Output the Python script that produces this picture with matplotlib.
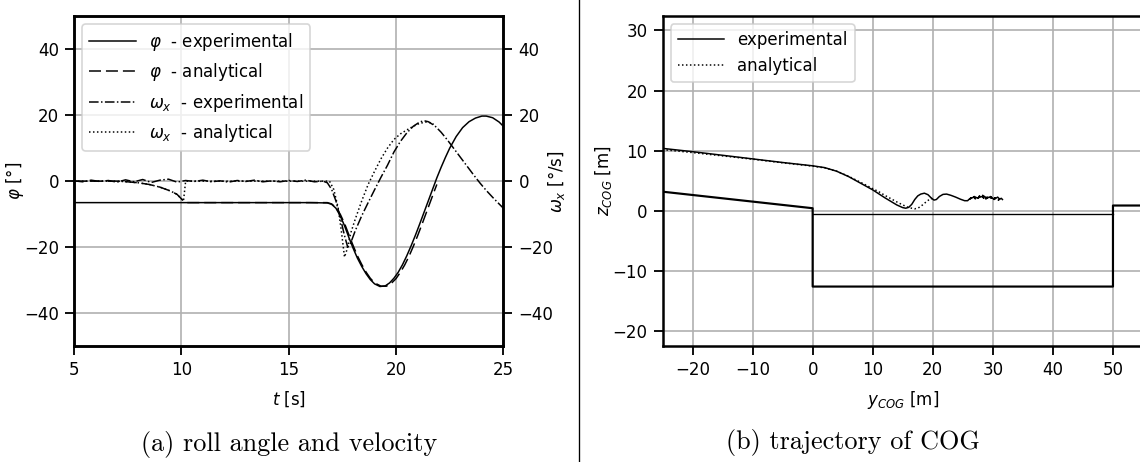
import matplotlib.pyplot as plt
from matplotlib.lines import Line2D

# ---- (a) roll angle phi [deg] and roll rate omega_x [deg/s] vs time ----
t_phi_exp = [5.0, 10.0, 16.0, 16.8, 17.0, 17.2, 17.4, 17.6, 17.8, 18.0, 18.2, 18.4,
             18.6, 18.8, 19.0, 19.25, 19.5, 19.7, 19.9, 20.1, 20.3, 20.5, 20.7, 20.9,
             21.1, 21.3, 21.5, 21.7, 21.9, 22.1, 22.3, 22.5, 22.8, 23.1, 23.4, 23.7,
             24.0, 24.2, 24.5, 24.8, 25.0]
phi_exp = [-6.5, -6.5, -6.5, -6.6, -7.0, -8.2, -10.5, -13.5, -17.0, -20.3, -23.3, -25.8,
           -28.0, -29.8, -31.1, -31.9, -31.7, -30.8, -29.4, -27.6, -25.3, -22.6, -19.6, -16.4,
           -13.0, -9.5, -6.0, -2.5, 1.0, 4.2, 7.2, 10.0, 13.5, 16.2, 18.0, 19.1,
           19.7, 19.7, 19.2, 17.9, 16.6]

t_phi_ana = [5.0, 7.0, 7.5, 8.0, 8.5, 9.0, 9.5, 9.8, 10.1, 10.2, 16.8, 17.0, 17.2, 17.4,
             17.6, 17.8, 18.0, 18.2, 18.4, 18.6, 18.8, 19.0, 19.3, 19.55, 19.8, 20.0,
             20.2, 20.4, 20.6, 20.8, 21.0, 21.2, 21.4, 21.6, 21.8, 21.9]
phi_ana = [0.0, 0.0, -0.2, -0.5, -1.0, -1.8, -3.0, -4.0, -6.0, -6.5, -6.5, -6.9, -8.0, -10.0,
           -12.8, -16.2, -19.5, -22.6, -25.2, -27.5, -29.4, -30.8, -31.8, -31.8, -30.8, -29.5,
           -27.6, -25.4, -22.8, -19.8, -16.6, -13.2, -9.7, -6.2, -2.7, -1.0]

t_om_exp = [5.0, 5.4, 5.8, 6.2, 6.6, 7.0, 7.4, 7.8, 8.2, 8.6, 9.0, 9.4, 9.8, 10.2, 10.6,
            11.0, 11.4, 11.8, 12.2, 12.6, 13.0, 13.4, 13.8, 14.2, 14.6, 15.0, 15.4, 15.8,
            16.2, 16.6, 16.8, 17.0, 17.2, 17.4, 17.6, 17.75, 17.9, 18.1, 18.4, 18.7, 19.0,
            19.3, 19.6, 19.9, 20.2, 20.5, 20.8, 21.1, 21.3, 21.5, 21.8, 22.1, 22.4, 22.7,
            23.0, 23.3, 23.6, 23.9, 24.2, 24.5, 24.8, 25.0]
om_exp = [0.1, -0.2, 0.3, -0.1, 0.2, -0.3, 0.4, -0.2, 0.5, -0.4, 0.3, 0.6, -0.3, 0.2, -0.1,
          0.3, -0.2, 0.1, -0.3, 0.2, -0.1, 0.3, -0.2, 0.1, -0.2, 0.2, -0.1, 0.3, -0.2, 0.0,
          -0.5, -2.5, -6.0, -11.0, -16.5, -20.0, -18.5, -15.0, -10.5, -6.5, -2.6,
          1.2, 4.8, 8.8, 12.0, 14.6, 16.6, 17.9, 18.3, 18.0, 16.8, 14.8, 12.4, 9.8,
          7.2, 4.6, 2.0, -0.5, -2.8, -4.9, -6.9, -8.2]

t_om_ana = [5.0, 7.0, 7.5, 8.0, 8.5, 9.0, 9.5, 9.8, 10.1, 10.2, 16.9, 17.1, 17.3, 17.45,
            17.6, 17.7, 17.9, 18.1, 18.4, 18.7, 19.0, 19.3, 19.6, 19.9, 20.2, 20.5, 20.8,
            21.1, 21.4, 21.6, 21.75]
om_ana = [0.0, 0.0, -0.2, -0.5, -1.0, -1.8, -3.0, -4.0, -6.0, 0.0, 0.0, -2.5, -8.0, -15.0,
          -23.0, -21.0, -15.5, -11.5, -6.0, -1.0, 3.0, 6.8, 10.0, 12.6, 14.3, 15.5, 16.6,
          17.5, 17.9, 17.7, 17.2]

# ---- (b) trajectory of COG and the terrain outline ----
y_cog_exp = [-25, -20, -15, -10, -5, 0, 2, 4, 6, 8, 10, 12, 13, 14, 15, 15.5, 16, 16.5, 17,
             17.5, 18, 18.6, 19.2, 19.7, 20.2, 20.6, 21.1, 21.7, 22.3, 23.0, 23.8, 24.6,
             25.3, 25.8, 26.0, 26.4, 26.2, 26.8, 27.1, 26.9, 27.5, 27.8, 27.6, 28.2, 28.5,
             28.3, 28.9, 29.1, 28.8, 29.4, 29.8, 29.6, 30.1, 30.4, 30.2, 30.8, 31.1, 30.9,
             31.4, 31.6]
z_cog_exp = [10.4, 9.85, 9.25, 8.65, 8.05, 7.5, 7.2, 6.6, 5.7, 4.6, 3.5, 2.2, 1.6, 1.0, 0.55,
             0.45, 0.6, 1.1, 1.9, 2.5, 2.8, 2.95, 2.7, 2.2, 1.8, 1.9, 2.4, 2.75, 2.8, 2.6,
             2.3, 1.95, 1.7, 1.7, 1.9, 2.2, 2.0, 2.3, 2.0, 2.4, 2.1, 2.5, 2.2, 2.4, 2.1,
             2.6, 2.2, 2.3, 2.0, 2.3, 2.1, 2.4, 2.0, 2.2, 1.9, 2.3, 2.0, 1.8, 2.1, 1.9]

y_cog_ana = [-25, -20, -15, -10, -5, 0, 2, 4, 6, 8, 10, 11, 12, 13, 14, 15, 16, 17, 17.6,
             18.3, 19.0, 19.7, 20.2]
z_cog_ana = [10.2, 9.7, 9.15, 8.6, 8.0, 7.45, 7.15, 6.6, 5.75, 4.75, 3.7, 3.2, 2.6, 2.05,
             1.5, 1.0, 0.55, 0.35, 0.5, 1.0, 1.6, 2.1, 1.85]

ground_y = [-25, 0, 0, 50, 50, 60]
ground_z = [3.2, 0.45, -12.57, -12.57, 0.9, 0.9]
water_y = [0, 50]
water_z = [-0.55, -0.55]

plt.rcParams['font.size'] = 10
plt.rcParams['axes.linewidth'] = 1.5
plt.rcParams['xtick.major.size'] = 5.5
plt.rcParams['ytick.major.size'] = 5.5
plt.rcParams['xtick.major.width'] = 1.1
plt.rcParams['ytick.major.width'] = 1.1

W, H = 1140, 462
fig = plt.figure(figsize=(W / 120, H / 120), dpi=120)

# left panel
ax1 = fig.add_axes([74 / W, 1 - 346.3 / H, (503.4 - 74) / W, (346.3 - 16) / H])
l1, = ax1.plot(t_phi_exp, phi_exp, 'k-', lw=0.9, label=r'$\varphi$  - experimental')
l2, = ax1.plot(t_phi_ana, phi_ana, 'k--', lw=0.9, dashes=(8, 3.3),
               label=r'$\varphi$  - analytical')
ax1.set_xlim(5, 25)
ax1.set_ylim(-50, 50)
ax1.set_yticks([-40, -20, 0, 20, 40])
ax1.set_xticks([5, 10, 15, 20, 25])
ax1.grid(True, color='#b0b0b0', lw=1.0)
ax1.set_xlabel('$t$ [s]', labelpad=6)
ax1.set_ylabel(r'$\varphi$ [°]')
ax1.yaxis.set_label_coords(-0.112, 0.5)

ax1r = ax1.twinx()
l3, = ax1r.plot(t_om_exp, om_exp, 'k-.', lw=0.9, label=r'$\omega_x$  - experimental')
l4, = ax1r.plot(t_om_ana, om_ana, 'k:', lw=0.9, label=r'$\omega_x$  - analytical')
ax1r.set_ylim(-50, 50)
ax1r.set_yticks([-40, -20, 0, 20, 40])
ax1r.set_ylabel(r'$\omega_x$ [°/s]')
ax1r.yaxis.set_label_coords(1.10, 0.5)
ax1.legend(handles=[l1, l2, l3, l4], loc='upper left', handlelength=2.8)

# right panel
ax2 = fig.add_axes([662.5 / W, 1 - 345.7 / H, (1143 - 662.5) / W, (345.7 - 16) / H])
ax2.plot(ground_y, ground_z, 'k-', lw=1.3)
ax2.plot(water_y, water_z, 'k-', lw=0.8)
ax2.plot(y_cog_exp, z_cog_exp, 'k-', lw=0.9, label='experimental')
ax2.plot(y_cog_ana, z_cog_ana, 'k:', lw=0.9, label='analytical')
ax2.set_xlim(-25, 55)
ax2.set_ylim(-22.4, 32.4)
ax2.set_xticks([-20, -10, 0, 10, 20, 30, 40, 50])
ax2.set_yticks([-20, -10, 0, 10, 20, 30])
ax2.grid(True, color='#b0b0b0', lw=1.0)
ax2.set_xlabel('$y_{COG}$ [m]', labelpad=6)
ax2.set_ylabel('$z_{COG}$ [m]')
ax2.yaxis.set_label_coords(-0.101, 0.5)
handles, labels = ax2.get_legend_handles_labels()
ax2.legend(handles, labels, loc='upper left', handlelength=2.8)

# captions and separator
fig.text(289 / W, 1 - 444 / H, '(a) roll angle and velocity', family='cmr10', size=15.7,
         ha='center', va='center')
fig.text(853 / W, 1 - 442 / H, '(b) trajectory of COG', family='cmr10', size=15.7,
         ha='center', va='center')
fig.add_artist(Line2D([579 / W, 579 / W], [0, 1], transform=fig.transFigure,
                      color='black', lw=0.8))

fig.savefig('out.png', dpi=120)
